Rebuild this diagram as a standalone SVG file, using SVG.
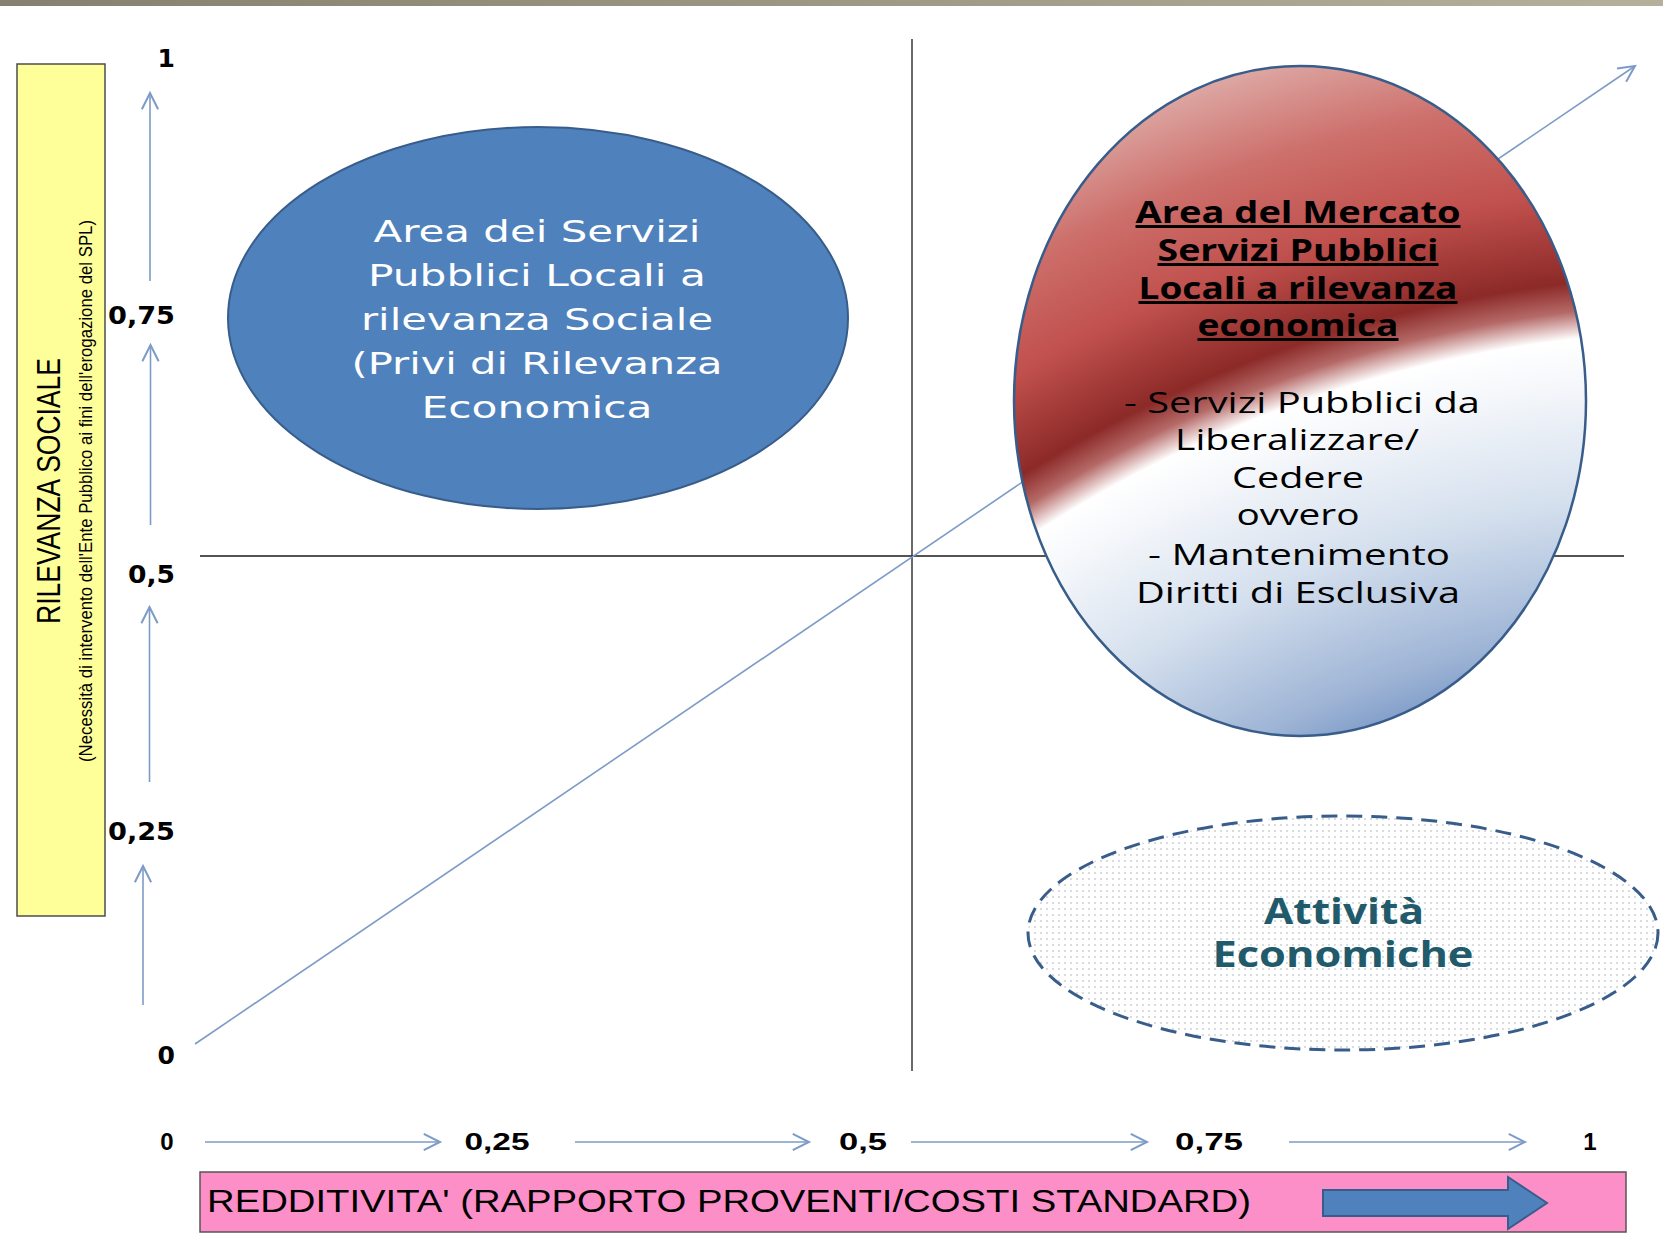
<svg xmlns="http://www.w3.org/2000/svg" width="1663" height="1247" viewBox="0 0 1663 1247">
<style>
.ax{fill:none;stroke:#7d9bc6;stroke-width:1.6}
.ylab{font-family:"DejaVu Sans",Verdana,sans-serif;font-weight:bold;font-size:25px;fill:#000;text-anchor:end}
.xlab{font-family:"Liberation Sans",Arial,sans-serif;font-weight:bold;font-size:24px;fill:#000;text-anchor:middle}
.wt{font-family:"DejaVu Sans",Verdana,sans-serif;font-size:30px;fill:#fff;text-anchor:middle}
.bt{font-family:"Open Sans",Calibri,sans-serif;font-weight:bold;font-size:30px;fill:#000;text-anchor:middle;text-decoration:underline}
.rt{font-family:"Open Sans",Calibri,sans-serif;font-size:30px;fill:#000;text-anchor:middle}
.tt{font-family:"Open Sans",Calibri,sans-serif;font-weight:bold;font-size:35px;fill:#215a6a;text-anchor:middle}
</style>
<defs>
<marker id="open" markerUnits="userSpaceOnUse" markerWidth="20" markerHeight="20" viewBox="-14 -8 16 16" refX="0" refY="0" orient="auto">
<path d="M-13,-6.5 L0,0 L-13,6.5" fill="none" stroke="#7d9bc6" stroke-width="1.6"/>
</marker>
<linearGradient id="topbar" x1="0" y1="0" x2="1" y2="0">
<stop offset="0" stop-color="#85806f"/>
<stop offset="1" stop-color="#b5b09b"/>
</linearGradient>
<radialGradient id="redblue" gradientUnits="userSpaceOnUse" cx="1716" cy="1579" r="1600">
<stop offset="0.55" stop-color="#6a8bbf"/>
<stop offset="0.60" stop-color="#9fb5d6"/>
<stop offset="0.68" stop-color="#d5e0ee"/>
<stop offset="0.755" stop-color="#f6f8fb"/>
<stop offset="0.78" stop-color="#ffffff"/>
<stop offset="0.797" stop-color="#b56a68"/>
<stop offset="0.815" stop-color="#8c2a28"/>
<stop offset="0.87" stop-color="#c0504d"/>
<stop offset="0.93" stop-color="#cd6f6b"/>
<stop offset="0.98" stop-color="#dba09c"/>
<stop offset="1" stop-color="#e2b4b0"/>
</radialGradient>
<pattern id="dots" patternUnits="userSpaceOnUse" width="6" height="6">
<rect width="6" height="6" fill="#ffffff"/>
<circle cx="3" cy="3" r="0.8" fill="#a9b0b5"/>
</pattern>
</defs>
<rect x="0" y="0" width="1663" height="1247" fill="#ffffff"/>
<rect x="0" y="0" width="1663" height="6" fill="url(#topbar)"/>

<g id="y-axis-title">
<rect x="17" y="64" width="88" height="852" fill="#ffff99" stroke="#4d4d4d" stroke-width="1.5"/>
<text transform="translate(60,491) rotate(-90)" x="0" y="0" text-anchor="middle" font-family="Liberation Sans, Arial, sans-serif" font-size="33" textLength="266" lengthAdjust="spacingAndGlyphs">RILEVANZA SOCIALE</text>
<text transform="translate(92,491) rotate(-90)" x="0" y="0" text-anchor="middle" font-family="Liberation Sans, Arial, sans-serif" font-size="19" textLength="542" lengthAdjust="spacingAndGlyphs">(Necessità di intervento dell'Ente Pubblico ai fini dell'erogazione del SPL)</text>
</g>

<g id="x-axis-title">
<rect x="200" y="1172" width="1426" height="60" fill="#fd8fc8" stroke="#555555" stroke-width="1.5"/>
<text x="207" y="1212" font-family="Liberation Sans, Arial, sans-serif" font-size="31" textLength="1044" lengthAdjust="spacingAndGlyphs">REDDITIVITA' (RAPPORTO PROVENTI/COSTI STANDARD)</text>
<path d="M1323,1190 L1508,1190 L1508,1177 L1547,1203 L1508,1229 L1508,1216 L1323,1216 Z" fill="#4f81bd" stroke="#385d8a" stroke-width="2"/>
</g>

<g id="axis-labels">
<text class="ylab" x="175" y="67">1</text>
<text class="ylab" x="175" y="324" textLength="67" lengthAdjust="spacingAndGlyphs">0,75</text>
<text class="ylab" x="175" y="583" textLength="47" lengthAdjust="spacingAndGlyphs">0,5</text>
<text class="ylab" x="175" y="840" textLength="67" lengthAdjust="spacingAndGlyphs">0,25</text>
<text class="ylab" x="175" y="1064">0</text>
<text class="xlab" x="167" y="1150">0</text>
<text class="xlab" x="497" y="1150" textLength="65" lengthAdjust="spacingAndGlyphs">0,25</text>
<text class="xlab" x="863" y="1150" textLength="48" lengthAdjust="spacingAndGlyphs">0,5</text>
<text class="xlab" x="1209" y="1150" textLength="68" lengthAdjust="spacingAndGlyphs">0,75</text>
<text class="xlab" x="1590" y="1150">1</text>
</g>

<g id="connectors">
<line class="ax" x1="150" y1="281" x2="150" y2="93" marker-end="url(#open)"/>
<line class="ax" x1="150.5" y1="525" x2="150.5" y2="345" marker-end="url(#open)"/>
<line class="ax" x1="149.5" y1="782" x2="149.5" y2="607" marker-end="url(#open)"/>
<line class="ax" x1="143" y1="1005" x2="143" y2="866" marker-end="url(#open)"/>
<line class="ax" x1="205" y1="1142" x2="440" y2="1142" marker-end="url(#open)"/>
<line class="ax" x1="575" y1="1142" x2="809" y2="1142" marker-end="url(#open)"/>
<line class="ax" x1="911" y1="1142" x2="1147" y2="1142" marker-end="url(#open)"/>
<line class="ax" x1="1289" y1="1142" x2="1525" y2="1142" marker-end="url(#open)"/>
<line x1="912" y1="39" x2="912" y2="1071" stroke="#1a1a1a" stroke-width="1.3"/>
<line x1="200" y1="556" x2="1624" y2="556" stroke="#1a1a1a" stroke-width="1.3"/>
<line class="ax" x1="195" y1="1044" x2="1635" y2="66" marker-end="url(#open)"/>
</g>

<g id="node-social">
<ellipse cx="538" cy="318" rx="310" ry="191" fill="#4f81bd" stroke="#385d8a" stroke-width="2"/>
<text class="wt" x="537" y="242" textLength="327" lengthAdjust="spacingAndGlyphs">Area dei Servizi</text>
<text class="wt" x="537" y="286" textLength="338" lengthAdjust="spacingAndGlyphs">Pubblici Locali a</text>
<text class="wt" x="537" y="330" textLength="352" lengthAdjust="spacingAndGlyphs">rilevanza Sociale</text>
<text class="wt" x="537" y="374" textLength="371" lengthAdjust="spacingAndGlyphs">(Privi di Rilevanza</text>
<text class="wt" x="537" y="418" textLength="231" lengthAdjust="spacingAndGlyphs">Economica</text>
</g>

<g id="node-mercato">
<ellipse cx="1300" cy="401" rx="286" ry="335" fill="url(#redblue)" stroke="#385d8a" stroke-width="2.5"/>
<text class="bt" x="1298" y="223" textLength="325" lengthAdjust="spacingAndGlyphs">Area del Mercato</text>
<text class="bt" x="1298" y="261" textLength="281" lengthAdjust="spacingAndGlyphs">Servizi Pubblici</text>
<text class="bt" x="1298" y="299" textLength="319" lengthAdjust="spacingAndGlyphs">Locali a rilevanza</text>
<text class="bt" x="1298" y="336" textLength="201" lengthAdjust="spacingAndGlyphs">economica</text>
<text class="rt" x="1302" y="413" textLength="356" lengthAdjust="spacingAndGlyphs">- Servizi Pubblici da</text>
<text class="rt" x="1297" y="450" textLength="244" lengthAdjust="spacingAndGlyphs">Liberalizzare/</text>
<text class="rt" x="1298" y="488" textLength="132" lengthAdjust="spacingAndGlyphs">Cedere</text>
<text class="rt" x="1298" y="525" textLength="123" lengthAdjust="spacingAndGlyphs">ovvero</text>
<text class="rt" x="1299" y="565" textLength="302" lengthAdjust="spacingAndGlyphs">- Mantenimento</text>
<text class="rt" x="1298" y="603" textLength="324" lengthAdjust="spacingAndGlyphs">Diritti di Esclusiva</text>
</g>

<g id="node-attivita">
<ellipse cx="1343" cy="933" rx="315" ry="117" fill="url(#dots)" stroke="#385d8a" stroke-width="3" stroke-dasharray="16,9"/>
<text class="tt" x="1344" y="924" textLength="160" lengthAdjust="spacingAndGlyphs">Attività</text>
<text class="tt" x="1343" y="967" textLength="261" lengthAdjust="spacingAndGlyphs">Economiche</text>
</g>
</svg>
